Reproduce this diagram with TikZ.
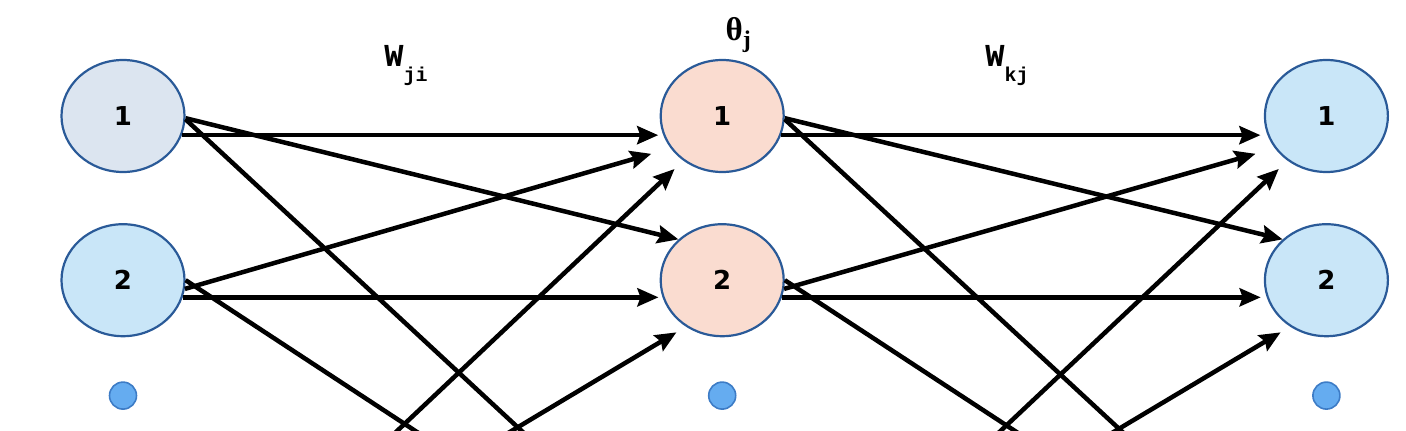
\documentclass[tikz,border=0pt]{standalone}
\usepackage{fontspec}
\usepackage{xcolor}
\usetikzlibrary{shapes.geometric,positioning,arrows.meta}
\newfontfamily\numfont{DejaVu Sans}
\newfontfamily\wfont{Liberation Mono}
\newfontfamily\thfont{Liberation Serif}
\definecolor{rim}{HTML}{2A5A98}
\definecolor{inpone}{HTML}{DCE5F0}
\definecolor{lightblue}{HTML}{C9E6F8}
\definecolor{peach}{HTML}{FADCD0}
\definecolor{dotblue}{HTML}{65ACF0}
\definecolor{dotrim}{HTML}{3D7CC6}
\begin{document}
\begin{tikzpicture}
  [x=1pt,y=-1pt,node distance=50pt,
   neuron/.style ={draw=rim,line width=2.2pt,ellipse,minimum width=123pt,minimum height=112pt,inner sep=0pt,
     font=\numfont\bfseries\fontsize{26pt}{26pt}\selectfont},
   gapdot/.style ={draw=dotrim,fill=dotblue,line width=1.6pt,circle,minimum size=27pt,inner sep=0pt},
   wire/.style ={line width=4.5pt,-{Stealth[length=21pt,width=18pt,inset=3pt]}}]
  \useasboundingbox (0,0) rectangle (1406,431);
  \clip (0,0) rectangle (1406,431);
  % input layer
  \node[neuron][fill=inpone] (i1) at (123,116) {1};
  \node[neuron][fill=lightblue] (i2) [below=of i1] {2};
  \node[gapdot] (id1) [below=44pt of i2] {};
  \node[gapdot] (id2) [below=24pt of id1] {};
  % hidden layer
  \node[neuron][fill=peach] (h1) [right=474pt of i1] {1};
  \node[neuron][fill=peach] (h2) [below=of h1] {2};
  \node[gapdot] (hd1) [below=44pt of h2] {};
  \node[gapdot] (hd2) [below=24pt of hd1] {};
  % output layer
  \node[neuron][fill=lightblue] (o1) [right=479pt of h1] {1};
  \node[neuron][fill=lightblue] (o2) [below=of o1] {2};
  \node[gapdot] (od1) [below=44pt of o2] {};
  \node[gapdot] (od2) [below=24pt of od1] {};
  % labels
  \node[inner sep=0pt,font=\thfont\bfseries\fontsize{33pt}{33pt}\selectfont] (theta) [above=6pt of h1,xshift=16pt]
    {θ\raisebox{-7pt}{\fontsize{24pt}{24pt}\selectfont j}};
  \node[inner sep=0pt,font=\wfont\bfseries\fontsize{32pt}{32pt}\selectfont] (wji) at (406,66)
    {W\raisebox{-15pt}{\fontsize{20pt}{20pt}\selectfont ji}};
  \node[inner sep=0pt,font=\wfont\bfseries\fontsize{32pt}{32pt}\selectfont] (wkj) at (1007,66)
    {W\raisebox{-15pt}{\fontsize{20pt}{20pt}\selectfont kj}};
  % ends below the visible part
  \coordinate (lowhid1) at (704,600);
  \coordinate (lowhid2) at (673,600);
  \coordinate (lowin1) at (218,600);
  \coordinate (lowin2) at (229,600);
  \coordinate (lowout1) at (1304,600);
  \coordinate (lowout2) at (1273,600);
  \coordinate (lowhid3) at (821,600);
  \coordinate (lowhid4) at (832,600);
  % input -> hidden
  \draw[wire,shorten >=5pt] (i1.-18) to (h1.198);
  \draw[wire] (i1.-2) to (h2.137);
  \draw[wire] (i1.-3) to (lowhid1);
  \draw[wire,shorten >=20pt] (i2.-8) to (h1.212);
  \draw[wire,shorten >=4pt] (i2.-16) to (h2.196);
  \draw[wire] (i2.east) to (lowhid2);
  \draw[wire,shorten >=12pt] (lowin1) to (h1.229);
  \draw[wire,shorten >=11pt] (lowin2) to (h2.232);
  % hidden -> output
  \draw[wire,shorten >=7pt] (h1.-18) to (o1.198);
  \draw[wire] (h1.-2) to (o2.137);
  \draw[wire] (h1.-3) to (lowout1);
  \draw[wire,shorten >=20pt] (h2.-8) to (o1.212);
  \draw[wire,shorten >=6pt] (h2.-16) to (o2.196);
  \draw[wire] (h2.east) to (lowout2);
  \draw[wire,shorten >=12pt] (lowhid3) to (o1.229);
  \draw[wire,shorten >=11pt] (lowhid4) to (o2.232);
\end{tikzpicture}
\end{document}
